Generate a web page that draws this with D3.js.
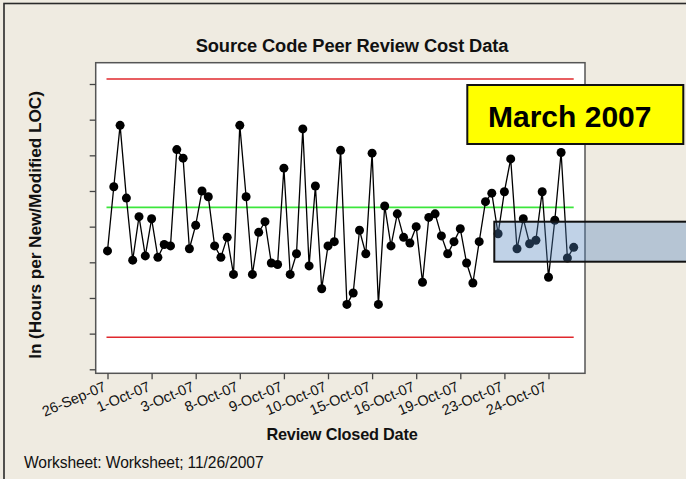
<!DOCTYPE html>
<html>
<head>
<meta charset="utf-8">
<script src="https://cdn.jsdelivr.net/npm/d3@7/dist/d3.min.js"></script>
<style>
  html, body { margin: 0; padding: 0; background: #efebe1; }
  svg { display: block; }
</style>
</head>
<body>
<div class="chart"></div>
<script>
// I-chart of ln(hours per new/modified LOC), one point per peer review,
// x axis labelled every 7th observation with its review closed date.
var obsValues = [
  -4.34, -3.44, -2.58, -3.60, -4.47, -3.86, -4.41, -3.89, -4.43, -4.25,
  -4.27, -2.92, -3.04, -4.31, -3.98, -3.50, -3.58, -4.27, -4.43, -4.15,
  -4.67, -2.58, -3.58, -4.67, -4.08, -3.93, -4.51, -4.53, -3.18, -4.67,
  -4.38, -2.63, -4.55, -3.43, -4.87, -4.27, -4.21, -2.93, -5.09, -4.93,
  -4.05, -4.38, -2.97, -5.09, -3.71, -4.27, -3.82, -4.15, -4.23, -4.00,
  -4.78, -3.87, -3.82, -4.13, -4.38, -4.21, -4.03, -4.51, -4.79, -4.21,
  -3.65, -3.53, -4.10, -3.51, -3.05, -4.31, -3.89, -4.24, -4.19, -3.51,
  -4.71, -3.91, -2.96, -4.44, -4.29
]
var dateTicks = [1, 8, 15, 22, 29, 36, 43, 50, 57, 64, 71]
var dateLabels = ['26-Sep-07', '1-Oct-07', '3-Oct-07', '8-Oct-07', '9-Oct-07', '10-Oct-07',
  '15-Oct-07', '16-Oct-07', '19-Oct-07', '23-Oct-07', '24-Oct-07']
var yTickValues = [-6, -5.5, -5, -4.5, -4, -3.5, -3, -2.5, -2]
var centerLine = -3.73
var upperLimit = -1.93
var lowerLimit = -5.55

var W = 686, H = 479
var plot = {left: 95.7, top: 62.7, right: 585, bottom: 373.3}
var sans = '"Liberation Sans", Arial, sans-serif'

var svg = d3.select('.chart').append('svg').attr('width', W).attr('height', H)

// ---- outer frame ----
svg.append('rect')
  .attr('x', 4).attr('y', 3.5).attr('width', W + 10).attr('height', H + 10)
  .attr('fill', '#efebe1').attr('stroke', '#2a2a2a').attr('stroke-width', 1.6)

// ---- scales ----
var x = d3.scaleLinear().domain([1, obsValues.length]).range([107.5, 573.7])
var y = d3.scaleLinear().domain([-6, -2]).range([369.3, 84])

// ---- plot box ----
svg.append('rect')
  .attr('x', plot.left).attr('y', plot.top)
  .attr('width', plot.right - plot.left).attr('height', plot.bottom - plot.top)
  .attr('fill', '#fff').attr('stroke', '#555').attr('stroke-width', 1.5)

// ---- axes (unlabelled y ticks, date labels on x) ----
var yAxis = d3.axisLeft(y).tickValues(yTickValues).tickSize(6).tickFormat('')
svg.append('g').attr('transform', 'translate(' + plot.left + ',0)').call(yAxis)
  .call(function(g){ g.select('.domain').remove() })
  .selectAll('.tick line').attr('stroke', '#444').attr('stroke-width', 1.3)

var xAxis = d3.axisBottom(x).tickValues(dateTicks).tickSize(6)
  .tickFormat(function(d, i){ return dateLabels[i] })
var xg = svg.append('g').attr('transform', 'translate(0,' + plot.bottom + ')').call(xAxis)
xg.select('.domain').remove()
xg.selectAll('.tick line').attr('stroke', '#444').attr('stroke-width', 1.3)
xg.selectAll('.tick text')
  .attr('font-family', '"Liberation Sans Narrow", "Liberation Sans", Arial, sans-serif')
  .attr('font-size', 14.5).attr('fill', '#111')
  .attr('text-anchor', 'end').attr('dy', 0).attr('y', 0)
  .attr('transform', 'translate(-1,17) rotate(-23)')

// ---- control limits and centre line ----
function refLine(v, color, w){
  svg.append('line')
    .attr('x1', x(1) - 1).attr('x2', x(obsValues.length))
    .attr('y1', y(v)).attr('y2', y(v))
    .attr('stroke', color).attr('stroke-width', w)
}
refLine(upperLimit, '#e0282d', 1.4)
refLine(lowerLimit, '#e0282d', 1.4)
refLine(centerLine, '#3ce63c', 1.8)

// ---- observations ----
var line = d3.line().x(function(d, i){ return x(i + 1) }).y(function(d){ return y(d) })
svg.append('path').attr('d', line(obsValues))
  .attr('fill', 'none').attr('stroke', '#000').attr('stroke-width', 1.3)
svg.append('g').selectAll('circle').data(obsValues).enter().append('circle')
  .attr('cx', function(d, i){ return x(i + 1) })
  .attr('cy', function(d){ return y(d) })
  .attr('r', 4.5).attr('fill', '#000')

// ---- titles ----
svg.append('text').text('Source Code Peer Review Cost Data')
  .attr('x', 352).attr('y', 52).attr('text-anchor', 'middle')
  .attr('font-family', sans).attr('font-weight', 700)
  .attr('font-size', 18.3).attr('letter-spacing', -0.1).attr('fill', '#111')

svg.append('text').text('ln (Hours per New/Modified LOC)')
  .attr('transform', 'translate(41,225) rotate(-90)').attr('text-anchor', 'middle')
  .attr('font-family', sans).attr('font-weight', 700)
  .attr('font-size', 17.3).attr('letter-spacing', -0.1).attr('fill', '#111')

svg.append('text').text('Review Closed Date')
  .attr('x', 342).attr('y', 440).attr('text-anchor', 'middle')
  .attr('font-family', sans).attr('font-weight', 700)
  .attr('font-size', 16.3).attr('letter-spacing', -0.2).attr('fill', '#111')

svg.append('text').text('Worksheet: Worksheet; 11/26/2007')
  .attr('x', 24).attr('y', 468)
  .attr('font-family', sans)
  .attr('font-size', 15.6).attr('letter-spacing', -0.1).attr('fill', '#111')

// ---- call-outs pasted over the chart ----
svg.append('rect')
  .attr('x', 494.3).attr('y', 221.7).attr('width', 200).attr('height', 40)
  .attr('fill', 'rgba(79,129,189,0.36)').attr('stroke', '#111').attr('stroke-width', 2)

svg.append('rect')
  .attr('x', 467.3).attr('y', 85).attr('width', 216).attr('height', 59)
  .attr('fill', '#ffff00').attr('stroke', '#111').attr('stroke-width', 2)
svg.append('text').text('March 2007')
  .attr('x', 488).attr('y', 127)
  .attr('font-family', sans).attr('font-weight', 700)
  .attr('font-size', 30).attr('fill', '#000')
</script>
</body>
</html>
